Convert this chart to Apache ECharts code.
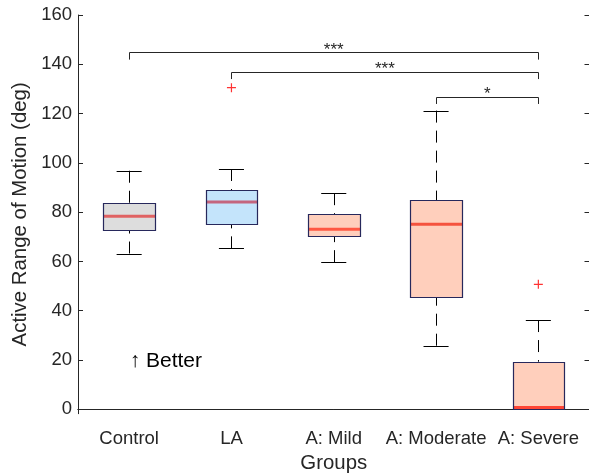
<!DOCTYPE html>
<html><head><meta charset="utf-8">
<script src="https://cdn.jsdelivr.net/npm/echarts@6/dist/echarts.min.js"></script>
<style>html,body{margin:0;padding:0;background:#fff}#c{width:589px;height:473px}</style>
</head><body><div id="c"></div>
<script>
// ---- data ----
const categories = ['Control', 'LA', 'A: Mild', 'A: Moderate', 'A: Severe'];
const whiskerLow  = [63.2, 65.3, 59.7, 25.8, 0.0];
const q1          = [72.8, 75.2, 70.3, 45.7, 0.1];
const median      = [78.3, 84.1, 73.1, 75.1, 0.7];
const q3          = [83.7, 89.0, 79.1, 84.8, 19.3];
const whiskerHigh = [96.8, 97.5, 87.7, 121.2, 36.2];
const outlierGroup = [1, 4];
const outlierValue = [130.5, 50.7];
const yTicks = [0, 20, 40, 60, 80, 100, 120, 140, 160];
const bracketFrom = [0, 1, 3];
const bracketTo   = [4, 4, 4];
const bracketY    = [144.9, 137.0, 126.9];
const bracketText = ['***', '***', '*'];
const noteText = ['\u2191 Better'];
const notePos = [[0, 19.5]];

// ---- styles ----
const fillColors = ['#dddddd', '#c4e4fb', '#ffcfbc', '#ffcfbc', '#ffcfbc'];
const medianColors = ['#e06262', '#c4657e', '#ff5843', '#f5533e', '#ff4636'];
const edgeColor = '#27285c';
const axisColor = '#262626';
const FONT = '"Liberation Sans", Arial, "DejaVu Sans", sans-serif';

const chart = echarts.init(document.getElementById('c'), null, {renderer: 'canvas'});
const px = v => Math.round(v) + 0.5;

const boxData = categories.map((c, i) => [i, whiskerLow[i], q1[i], median[i], q3[i], whiskerHigh[i]]);

function renderBox(params, api) {
  const i = params.dataIndex;
  const x0 = api.coord([api.value(0), 0])[0];
  const band = api.size([1, 0])[0];
  const bw = band * 0.505, cw = band * 0.245;
  const yLo = api.coord([0, api.value(1)])[1];
  const yQ1 = api.coord([0, api.value(2)])[1];
  const yMd = api.coord([0, api.value(3)])[1];
  const yQ3 = api.coord([0, api.value(4)])[1];
  const yHi = api.coord([0, api.value(5)])[1];
  const x = px(x0);
  const dash = {stroke: '#000', lineWidth: 1, lineDash: [12, 8]};
  const solid = {stroke: '#000', lineWidth: 1};
  const L = Math.round(x0 - bw / 2) + 0.5, R = Math.round(x0 + bw / 2) + 0.5;
  return {
    type: 'group',
    children: [
      {type: 'line', shape: {x1: x, y1: yHi, x2: x, y2: yQ3}, style: dash},
      {type: 'line', shape: {x1: x, y1: yLo, x2: x, y2: yQ1}, style: dash},
      {type: 'line', shape: {x1: x0 - cw / 2, y1: px(yHi), x2: x0 + cw / 2, y2: px(yHi)}, style: solid},
      {type: 'line', shape: {x1: x0 - cw / 2, y1: px(yLo), x2: x0 + cw / 2, y2: px(yLo)}, style: solid},
      {type: 'rect', shape: {x: L, y: px(yQ3), width: R - L, height: px(yQ1) - px(yQ3)},
        style: {fill: fillColors[i], stroke: null}},
      {type: 'line', shape: {x1: L, y1: yMd, x2: R, y2: yMd},
        style: {stroke: medianColors[i], lineWidth: 3}},
      {type: 'rect', shape: {x: L, y: px(yQ3), width: R - L, height: px(yQ1) - px(yQ3)},
        style: {fill: null, stroke: edgeColor, lineWidth: 1.2}}
    ]
  };
}

function renderBracket(params, api) {
  const i = params.dataIndex;
  const a = api.coord([api.value(0), api.value(2)]);
  const b = api.coord([api.value(1), api.value(2)]);
  const yDrop = api.coord([0, api.value(2) - 3])[1];
  const y = px(a[1]);
  const xa = px(a[0]), xb = px(b[0]);
  return {
    type: 'group',
    children: [
      {type: 'polyline', shape: {points: [[xa, yDrop], [xa, y], [xb, y], [xb, yDrop]]},
        style: {stroke: axisColor, lineWidth: 1, fill: null}},
      {type: 'text', x: (a[0] + b[0]) / 2, y: a[1] - 2,
        style: {text: bracketText[i], fill: axisColor, font: '17px ' + FONT,
          align: 'center', verticalAlign: 'middle'}}
    ]
  };
}

function renderNote(params, api) {
  const p = api.coord([api.value(0), api.value(1)]);
  return {type: 'text', x: p[0] + 0.5, y: p[1],
    style: {text: noteText[params.dataIndex], fill: '#000', font: '21px ' + FONT,
      align: 'left', verticalAlign: 'middle'}};
}

const option = {
  animation: false,
  backgroundColor: '#fff',
  grid: {left: 78, top: 15, width: 511.5, height: 398.7, containLabel: false, outerBoundsMode: 'none'},
  xAxis: [{
    type: 'category', data: categories, position: 'bottom', boundaryGap: true,
    axisLine: {lineStyle: {color: axisColor, width: 1}},
    axisTick: {inside: true, alignWithLabel: true, length: 5, lineStyle: {color: axisColor}},
    axisLabel: {color: axisColor, fontSize: 18.5, fontFamily: FONT, margin: 16, interval: 0},
    name: 'Groups', nameLocation: 'middle', nameGap: 40,
    nameTextStyle: {color: axisColor, fontSize: 20.4, fontFamily: FONT},
    splitLine: {show: false}
  }, {
    type: 'category', data: categories, position: 'top', boundaryGap: true,
    axisLine: {lineStyle: {color: axisColor, width: 1}},
    axisTick: {inside: true, alignWithLabel: true, length: 5, lineStyle: {color: axisColor}},
    axisLabel: {show: false}, splitLine: {show: false}
  }],
  yAxis: [{
    type: 'value', min: -1.8, max: 160, position: 'left',
    axisLine: {show: true, lineStyle: {color: axisColor, width: 1}},
    axisTick: {show: true, inside: true, length: 5, customValues: yTicks, lineStyle: {color: axisColor}},
    axisLabel: {color: axisColor, fontSize: 18.5, fontFamily: FONT, margin: 6, customValues: yTicks},
    splitLine: {show: false},
    name: 'Active Range of Motion (deg)', nameLocation: 'middle', nameGap: 36,
    nameTextStyle: {color: axisColor, fontSize: 20.4, fontFamily: FONT}
  }, {
    type: 'value', min: -1.8, max: 160, position: 'right',
    axisLine: {show: true, lineStyle: {color: axisColor, width: 1}},
    axisTick: {show: true, inside: true, length: 5, customValues: yTicks, lineStyle: {color: axisColor}},
    axisLabel: {show: false}, splitLine: {show: false}
  }],
  series: [{
    type: 'custom', name: 'box', xAxisIndex: 0, yAxisIndex: 0, clip: false,
    renderItem: renderBox, data: boxData, encode: {x: 0, y: [1, 2, 3, 4, 5]}, z: 3
  }, {
    type: 'scatter', name: 'outliers', xAxisIndex: 0, yAxisIndex: 0,
    data: outlierGroup.map((g, k) => [g, outlierValue[k]]),
    symbol: 'path://M0,5H10M5,0V10', symbolSize: 9,
    itemStyle: {color: 'none', borderColor: '#ff0000', borderWidth: 1.2}, z: 4
  }, {
    type: 'custom', name: 'brackets', xAxisIndex: 0, yAxisIndex: 0, clip: false,
    renderItem: renderBracket,
    data: bracketFrom.map((f, k) => [f, bracketTo[k], bracketY[k]]), z: 5
  }, {
    type: 'custom', name: 'note', xAxisIndex: 0, yAxisIndex: 0, clip: false,
    renderItem: renderNote, data: notePos, z: 5
  }]
};
chart.setOption(option);
</script>
</body></html>
